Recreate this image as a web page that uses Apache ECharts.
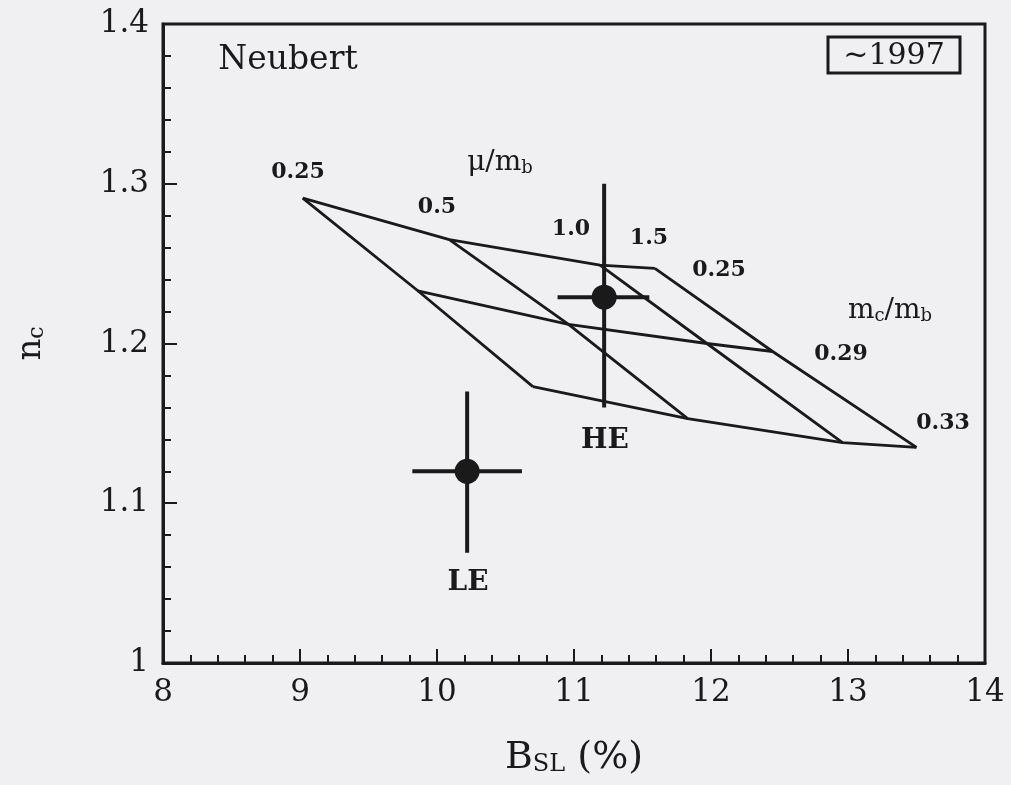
<!DOCTYPE html>
<html><head><meta charset="utf-8">
<script src="https://cdn.jsdelivr.net/npm/echarts@6/dist/echarts.min.js"></script>
<style>html,body{margin:0;padding:0;background:#f0f0f2}#c{width:1011px;height:785px}</style>
</head><body><div id="c"></div>
<script>
// ---- data ----
const muValues = ['0.25', '0.5', '1.0', '1.5'];      // μ/m_b grid lines
const mcValues = ['0.25', '0.29', '0.33'];           // m_c/m_b grid lines
// grid nodes: gridBSL[mu][mc], gridNc[mu][mc]
const gridBSL = [
  [9.02, 9.86, 10.70],
  [10.09, 10.96, 11.83],
  [11.19, 11.97, 12.96],
  [11.59, 12.45, 13.50]
];
const gridNc = [
  [1.291, 1.233, 1.173],
  [1.265, 1.212, 1.153],
  [1.249, 1.200, 1.138],
  [1.247, 1.195, 1.135]
];
const measNames = ['HE', 'LE'];
const measBSL = [11.22, 10.22];
const measBSLlo = [10.88, 9.82];
const measBSLhi = [11.55, 10.62];
const measNc = [1.229, 1.120];
const measNcLo = [1.160, 1.069];
const measNcHi = [1.300, 1.170];
const xRange = [8, 14], xStep = 1;
const yRange = [1, 1.4], yStep = 0.1;

// ---- chart ----
const FONT = 'DejaVu Serif';
const INK = '#1a1a1a';
const chart = echarts.init(document.getElementById('c'));

const series = [];
mcValues.forEach((mc, j) => {
  series.push({
    type: 'line', name: 'mc' + mc, symbol: 'none', silent: true,
    lineStyle: { color: INK, width: 2.8 },
    data: muValues.map((_, i) => [gridBSL[i][j], gridNc[i][j]])
  });
});
muValues.forEach((mu, i) => {
  series.push({
    type: 'line', name: 'mu' + mu, symbol: 'none', silent: true,
    lineStyle: { color: INK, width: 2.8 },
    data: mcValues.map((_, j) => [gridBSL[i][j], gridNc[i][j]])
  });
});
series.push({
  type: 'custom', name: 'errors', silent: true,
  data: measNames.map((n, k) => [measBSL[k], measNc[k], measBSLlo[k], measBSLhi[k], measNcLo[k], measNcHi[k]]),
  renderItem: function (params, api) {
    const xl = api.coord([api.value(2), api.value(1)]);
    const xh = api.coord([api.value(3), api.value(1)]);
    const yl = api.coord([api.value(0), api.value(4)]);
    const yh = api.coord([api.value(0), api.value(5)]);
    const st = { stroke: INK, lineWidth: 4 };
    return { type: 'group', children: [
      { type: 'line', shape: { x1: xl[0], y1: xl[1], x2: xh[0], y2: xh[1] }, style: st },
      { type: 'line', shape: { x1: yl[0], y1: yl[1], x2: yh[0], y2: yh[1] }, style: st }
    ]};
  },
  z: 3
});
series.push({
  type: 'scatter', name: 'points', symbol: 'circle', symbolSize: 25, silent: true,
  itemStyle: { color: '#1a1a1a', opacity: 1 }, z: 4,
  data: measNames.map((n, k) => [measBSL[k], measNc[k]])
});

function txt(text, x, y, font, opts) {
  return {
    type: 'text', x: x, y: y, silent: true,
    style: Object.assign({
      text: text, font: font, fill: INK,
      align: 'center', verticalAlign: 'middle'
    }, opts || {})
  };
}
const f = (size, bold) => (bold ? 'bold ' : '') + size + 'px "' + FONT + '"';
const subRich = (size, sub) => ({
  n: { fontFamily: FONT, fontSize: size, color: INK },
  s: { fontFamily: FONT, fontSize: sub, color: INK, verticalAlign: 'bottom' }
});

chart.setOption({
  backgroundColor: '#f0f0f2',
  animation: false,
  grid: { left: 163, right: 26, top: 24, bottom: 122, show: true, borderColor: INK, borderWidth: 3, backgroundColor: 'transparent' },
  xAxis: {
    type: 'value', min: xRange[0], max: xRange[1], interval: xStep,
    axisLine: { show: true, lineStyle: { color: INK, width: 3 } },
    axisTick: { show: true, inside: true, length: 14, lineStyle: { color: INK, width: 2 } },
    minorTick: { show: true, splitNumber: 5, length: 8, lineStyle: { color: INK, width: 2 } },
    splitLine: { show: false },
    axisLabel: { show: true, margin: 14, fontFamily: FONT, fontSize: 31, color: INK, showMinLabel: true, showMaxLabel: true },
    name: '{n|B}{s|SL}{n| (%)}', nameLocation: 'middle', nameGap: 76,
    nameTextStyle: { rich: subRich(38, 24) }
  },
  yAxis: {
    type: 'value', min: yRange[0], max: yRange[1], interval: yStep,
    axisLine: { show: true, lineStyle: { color: INK, width: 3 } },
    axisTick: { show: true, inside: true, length: 14, lineStyle: { color: INK, width: 2 } },
    minorTick: { show: true, splitNumber: 5, length: 8, lineStyle: { color: INK, width: 2 } },
    splitLine: { show: false },
    axisLabel: { show: true, margin: 14, fontFamily: FONT, fontSize: 31, color: INK, showMinLabel: true, showMaxLabel: true },
    name: '{n|n}{s|c}', nameLocation: 'middle', nameRotate: 90, nameGap: 115,
    nameTextStyle: { rich: subRich(34, 22) }
  },
  series: series,
  graphic: [
    txt('Neubert', 288, 60, f(33)),
    { type: 'rect', shape: { x: 828, y: 37, width: 132, height: 36 }, style: { fill: 'none', stroke: INK, lineWidth: 3 }, silent: true },
    txt('~1997', 894, 56, f(30)),
    txt('{n|μ/m}{s|b}', 500, 163, f(28), { rich: subRich(28, 18) }),
    txt('{n|m}{s|c}{n|/m}{s|b}', 890, 311, f(28), { rich: subRich(28, 18) }),
    txt(muValues[0], 298, 172, f(22, true)),
    txt(muValues[1], 437, 207, f(22, true)),
    txt(muValues[2], 571, 229, f(22, true)),
    txt(muValues[3], 649, 238, f(22, true)),
    txt(mcValues[0], 719, 270, f(22, true)),
    txt(mcValues[1], 841, 354, f(22, true)),
    txt(mcValues[2], 943, 423, f(22, true)),
    txt(measNames[0], 605, 441, f(28, true)),
    txt(measNames[1], 468, 583, f(28, true))
  ]
});
</script></body></html>
